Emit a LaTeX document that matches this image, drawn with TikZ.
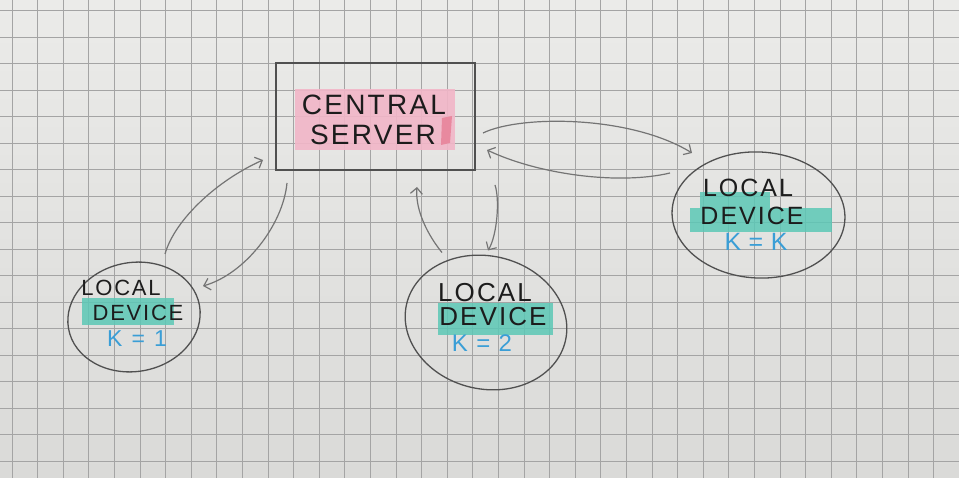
\documentclass[tikz,border=0pt]{standalone}
\usepackage{fontspec}
\setmainfont{Liberation Sans}
\newfontfamily\handfont{Liberation Sans}[LetterSpace=8]
\usetikzlibrary{arrows.meta,calc,shapes.geometric}
\definecolor{paperTop}{HTML}{EBEBE9}
\definecolor{paperBot}{HTML}{DADAD8}
\definecolor{gridc}{HTML}{A4A4A4}
\definecolor{pencil}{HTML}{505050}
\definecolor{pencilL}{HTML}{747474}
\definecolor{pinkhl}{HTML}{F2B6C8}
\definecolor{pinkdk}{HTML}{E8899F}
\definecolor{tealhl}{HTML}{5CC8B6}
\definecolor{bluetxt}{HTML}{3A9ED6}
\definecolor{ink}{HTML}{1C1C1C}
\begin{document}
\begin{tikzpicture}[x=1pt,y=-1pt,
  gridline/.style={draw=gridc,line width=0.9pt},
  serverbox/.style={draw=pencil,line width=2pt,rectangle,minimum width=199pt,minimum height=107pt,inner sep=0pt},
  devbox/.style={draw=pencil,line width=1.3pt,ellipse,inner sep=0pt},
  inktext/.style={text=ink,inner sep=0pt,font={\handfont\fontsize{#1}{#1}\selectfont}},
  ktext/.style={text=bluetxt,inner sep=0pt,font={\handfont\fontsize{#1}{#1}\selectfont}},
  link/.style={draw=pencilL,line width=1.2pt,-{Straight Barb[length=6pt,width=12pt]}},
  tealmark/.style={fill=tealhl,fill opacity=0.85},
  pinkmark/.style={fill=pinkhl,fill opacity=0.9}
]
\useasboundingbox (0,0) rectangle (959,478);
\begin{scope}
  \clip (0,0) rectangle (959,478);
  \shade[top color=paperTop,bottom color=paperBot] (0,0) rectangle (959,478);
  \foreach \i in {-11,...,27} \draw[gridline] ({268+25.6*\i},0) -- ({268+25.6*\i},478);
  \foreach \j in {-4,...,15} \draw[gridline] (0,{90+26.5*\j}) -- (959,{90+26.5*\j});
\end{scope}

% highlighter marks
\fill[pinkmark] (295,89) rectangle (455,150);
\fill[pinkdk] (442,118) -- (452,116) -- (450,143) -- (441,145) -- cycle;
\fill[tealmark] (82,298) rectangle (174,325);
\fill[tealmark] (438,303) rectangle (553,335);
\fill[tealmark] (700,192) rectangle (770,208);
\fill[tealmark] (690,208) rectangle (832,232);

% shapes
\node[serverbox] (server) at (375.5,116.5) {};
\node[devbox,minimum width=133pt,minimum height=109pt,rotate=10] (dev1) at (134,317) {};
\node[devbox,minimum width=163pt,minimum height=133pt,rotate=-13] (dev2) at (486,322.5) {};
\node[devbox,minimum width=173pt,minimum height=126pt,rotate=-3] (devK) at (758.5,215) {};

% texts
\node[inktext=28] (srv1) at (374,105) {CENTRAL};
\node[inktext=28] (srv2) at (373,135) {SERVER};

\node[inktext=22] (d1a) at (121,288) {LOCAL};
\node[inktext=22] (d1b) at (138,313) {DEVICE};
\node[ktext=23] (d1c) at (137,339) {K\hspace{0.4em}=\hspace{0.4em}1};

\node[inktext=26] (d2a) at (485,293) {LOCAL};
\node[inktext=26] (d2b) at (493,317) {DEVICE};
\node[ktext=24] (d2c) at (482,343) {K\hspace{0.35em}=\hspace{0.35em}2};

\node[inktext=25] (dKa) at (748,188) {LOCAL};
\node[inktext=25] (dKb) at (752,216) {DEVICE};
\node[ktext=25] (dKc) at (756,242) {K\hspace{0.3em}=\hspace{0.3em}K};

% connectors
\draw[link] ($(dev1)+(31,-63)$) .. controls +(10,-35) and +(-45,20) .. ($(server)+(-112.5,43.5)$);
\draw[link] ($(server)+(-88.5,66.5)$) .. controls +(-4,42) and +(42,-12) .. ($(dev1)+(69,-31)$);
\draw[link] ($(dev2)+(-44,-70)$) .. controls +(-14,-17) and +(-2,23) .. ($(server)+(41.5,70.5)$);
\draw[link] ($(server)+(119.5,68.5)$) .. controls +(5,15) and +(9,-15) .. ($(dev2)+(2,-72)$);
\draw[link] ($(server)+(107.5,16.5)$) .. controls +(37,-18) and +(-62,-38) .. ($(devK)+(-66.5,-62)$);
\draw[link] ($(devK)+(-88.5,-42)$) .. controls +(-50,12) and +(53,25) .. ($(server)+(111.5,33.5)$);
\end{tikzpicture}
\end{document}
